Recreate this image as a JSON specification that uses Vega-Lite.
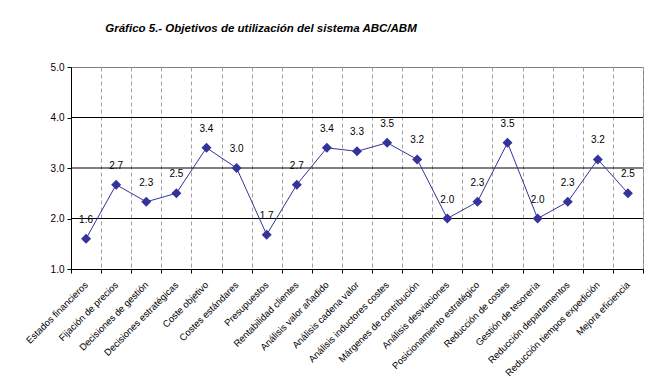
{
  "$schema": "https://vega.github.io/schema/vega-lite/v6.json",
  "width": 572,
  "height": 202,
  "autosize": {"type": "none"},
  "padding": {"left": 71, "top": 67, "right": 15, "bottom": 122},
  "background": "white",
  "title": {
    "text": "Gráfico 5.- Objetivos de utilización del sistema ABC/ABM",
    "font": "Liberation Sans",
    "fontSize": 11.5,
    "fontWeight": "bold",
    "fontStyle": "italic",
    "color": "black",
    "anchor": "middle",
    "frame": "group",
    "dx": -96,
    "baseline": "middle",
    "offset": 22
  },
  "config": {
    "view": {"stroke": "#808080", "strokeWidth": 1},
    "font": "Liberation Sans",
    "axis": {"labelFont": "Liberation Sans", "labelColor": "black", "domainColor": "black", "tickColor": "black"}
  },
  "datasets": {
    "main": [
      {"objetivo": "Estados financieros", "valor": 1.6},
      {"objetivo": "Fijación de precios", "valor": 2.67},
      {"objetivo": "Decisiones de gestión", "valor": 2.33},
      {"objetivo": "Decisiones estratégicas", "valor": 2.5},
      {"objetivo": "Coste objetivo", "valor": 3.4},
      {"objetivo": "Costes estándares", "valor": 3.0},
      {"objetivo": "Presupuestos", "valor": 1.68},
      {"objetivo": "Rentabilidad clientes", "valor": 2.67},
      {"objetivo": "Análisis valor añadido", "valor": 3.4},
      {"objetivo": "Análisis cadena valor", "valor": 3.33},
      {"objetivo": "Análisis inductores costes", "valor": 3.5},
      {"objetivo": "Márgenes de contribución", "valor": 3.17},
      {"objetivo": "Análisis desviaciones", "valor": 2.0},
      {"objetivo": "Posicionamiento estratégico", "valor": 2.33},
      {"objetivo": "Reducción de costes", "valor": 3.5},
      {"objetivo": "Gestión de tesorería", "valor": 2.0},
      {"objetivo": "Reducción departamentos", "valor": 2.33},
      {"objetivo": "Reducción tiempos expedición", "valor": 3.17},
      {"objetivo": "Mejora eficiencia", "valor": 2.5}
    ],
    "grid": [{"g": 2}, {"g": 3}, {"g": 4}]
  },
  "layer": [
    {
      "data": {"name": "grid"},
      "mark": {"type": "rule", "color": "black", "strokeWidth": 1},
      "encoding": {
        "y": {"field": "g", "type": "quantitative", "scale": {"domain": [1, 5]}}
      }
    },
    {
      "data": {"name": "main"},
      "mark": {"type": "line", "color": "#333399", "strokeWidth": 1},
      "encoding": {
        "x": {
          "field": "objetivo", "type": "nominal", "sort": null,
          "scale": {"type": "band", "paddingInner": 0, "paddingOuter": 0},
          "axis": {
            "title": null, "labelAngle": -45, "labelAlign": "right", "labelBaseline": "middle",
            "labelFontSize": 9.5, "labelPadding": 10, "tickBand": "extent", "tickSize": 4,
            "grid": true, "gridDash": [4, 3], "gridColor": "#a0a0a0", "labelLimit": 200
          }
        },
        "y": {
          "field": "valor", "type": "quantitative",
          "scale": {"domain": [1, 5], "nice": false},
          "axis": {"title": null, "values": [1, 2, 3, 4, 5], "format": ".1f", "grid": false, "tickSize": 4, "labelFontSize": 10, "labelPadding": 3}
        }
      }
    },
    {
      "data": {"name": "main"},
      "mark": {"type": "point", "shape": "diamond", "filled": true, "color": "#333399", "size": 100, "opacity": 1},
      "encoding": {
        "x": {"field": "objetivo", "type": "nominal", "sort": null},
        "y": {"field": "valor", "type": "quantitative"}
      }
    },
    {
      "data": {"name": "main"},
      "mark": {"type": "text", "dy": -19, "fontSize": 10, "color": "black", "baseline": "middle"},
      "encoding": {
        "x": {"field": "objetivo", "type": "nominal", "sort": null},
        "y": {"field": "valor", "type": "quantitative"},
        "text": {"field": "valor", "type": "quantitative", "format": ".1f"}
      }
    }
  ]
}
